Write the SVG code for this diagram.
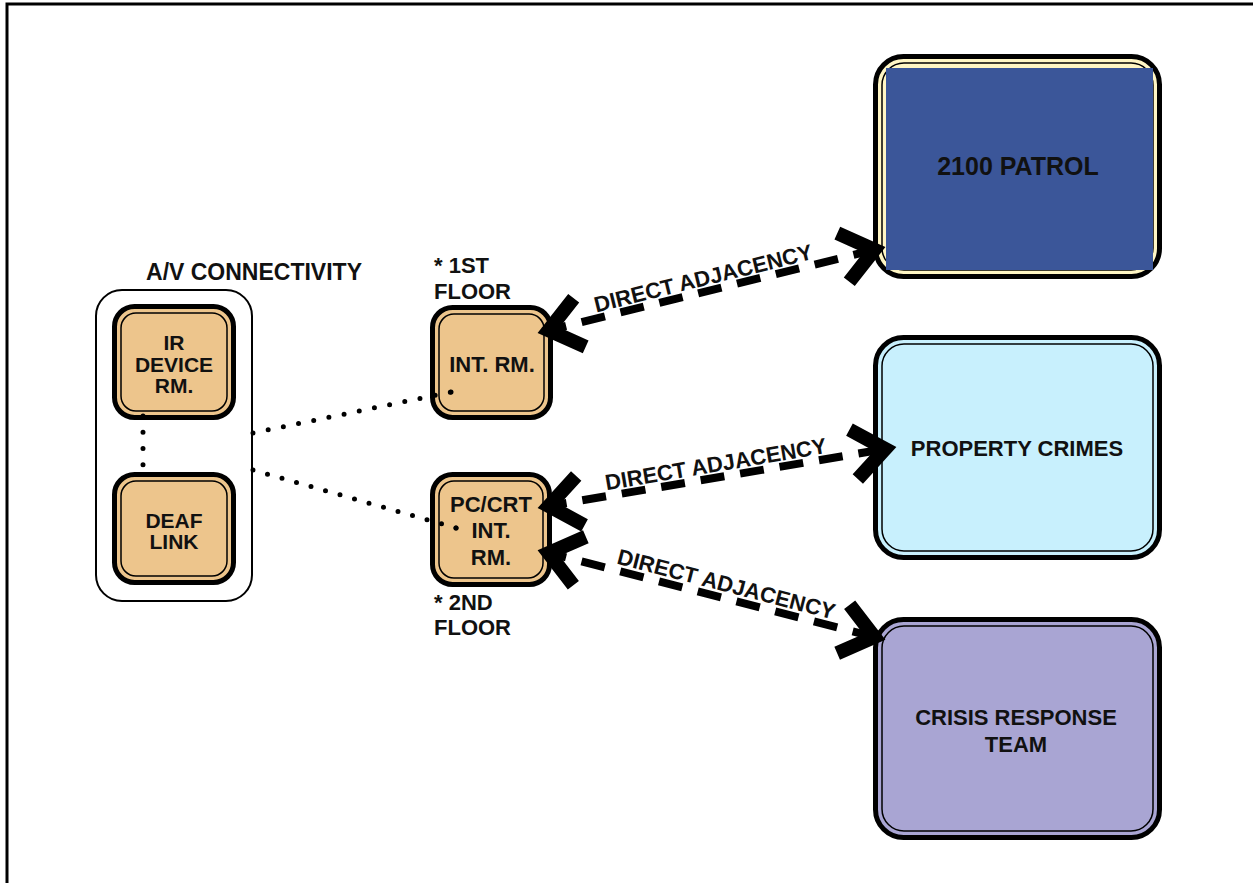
<svg xmlns="http://www.w3.org/2000/svg" width="1253" height="883" viewBox="0 0 1253 883">
  <style>
    text { font-family: "Liberation Sans", Arial, sans-serif; font-weight: bold; fill: #111; }
    .lbl { font-size: 22px; }
    .mid { text-anchor: middle; }
    .outer { stroke: #000; stroke-width: 5; }
    .inner { fill: none; stroke: #000; stroke-width: 1.5; }
    .tan { fill: #EDC58C; }
    .cream { fill: #FFF6C4; }
    .cyan { fill: #C8F0FD; }
    .lav { fill: #A9A5D3; }
    .dots { fill: none; stroke: #000; stroke-width: 5; stroke-linecap: round; }
    .adj { fill: none; stroke: #000; stroke-width: 8; stroke-dasharray: 24 16; marker-start: url(#chev); marker-end: url(#chev); }
    .adjtxt { font-size: 22px; text-anchor: middle; }
  </style>
  <defs>
    <marker id="chev" viewBox="-50 -35 70 70" refX="0" refY="0" markerWidth="70" markerHeight="70" markerUnits="userSpaceOnUse" orient="auto-start-reverse" overflow="visible">
      <path d="M-38,-25 L-6,0 L-38,25" fill="none" stroke="#000" stroke-width="14" stroke-linejoin="miter"/>
    </marker>
  </defs>

  <!-- sheet border (top and left edges) -->
  <path d="M7,883 V4 H1253" fill="none" stroke="#000" stroke-width="3"/>

  <!-- A/V connectivity grouping -->
  <g id="av-group">
    <rect x="96" y="290" width="156" height="311" rx="26" fill="none" stroke="#000" stroke-width="2"/>
    <text class="mid" font-size="23" x="254" y="280">A/V CONNECTIVITY</text>
  </g>

  <g id="ir-device-rm">
    <rect class="outer tan" x="114.5" y="306.5" width="119" height="111" rx="20"/>
    <rect class="inner" x="121" y="313" width="106" height="98" rx="15"/>
    <text class="mid" font-size="21" x="174" y="350">IR</text>
    <text class="mid" font-size="21" x="174" y="372">DEVICE</text>
    <text class="mid" font-size="21" x="174" y="393">RM.</text>
  </g>

  <g id="deaf-link">
    <rect class="outer tan" x="114.5" y="474.5" width="119" height="108" rx="20"/>
    <rect class="inner" x="121" y="481" width="106" height="95" rx="15"/>
    <text class="mid" font-size="21" x="174" y="528">DEAF</text>
    <text class="mid" font-size="21" x="174" y="549">LINK</text>
  </g>

  <g id="int-rm">
    <rect class="outer tan" x="432.5" y="307.5" width="118" height="110" rx="20"/>
    <rect class="inner" x="439" y="314" width="105" height="97" rx="15"/>
    <text class="lbl mid" x="492" y="372">INT. RM.</text>
    <text class="lbl" x="434" y="273">* 1ST</text>
    <text class="lbl" x="434" y="299">FLOOR</text>
  </g>

  <g id="pc-crt-int-rm">
    <rect class="outer tan" x="432.5" y="474.5" width="117" height="110" rx="20"/>
    <rect class="inner" x="439" y="481" width="104" height="97" rx="15"/>
    <text class="lbl mid" x="491" y="512">PC/CRT</text>
    <text class="lbl mid" x="491" y="538">INT.</text>
    <text class="lbl mid" x="491" y="565">RM.</text>
    <text class="lbl" x="434" y="610">* 2ND</text>
    <text class="lbl" x="434" y="635">FLOOR</text>
  </g>

  <g id="patrol-2100">
    <rect class="outer cream" x="875.5" y="56.5" width="284" height="220" rx="28"/>
    <rect class="inner" x="882" y="63" width="271" height="207" rx="22"/>
    <rect x="886" y="68" width="267" height="202" fill="#3B5699"/>
    <text class="mid" font-size="25" x="1018" y="175">2100 PATROL</text>
  </g>

  <g id="property-crimes">
    <rect class="outer cyan" x="875.5" y="337.5" width="284" height="220" rx="28"/>
    <rect class="inner" x="882" y="344" width="271" height="207" rx="22"/>
    <text class="lbl mid" x="1017" y="456">PROPERTY CRIMES</text>
  </g>

  <g id="crisis-response-team">
    <rect class="outer lav" x="875.5" y="619.5" width="284" height="218" rx="28"/>
    <rect class="inner" x="882" y="626" width="271" height="205" rx="22"/>
    <text class="lbl mid" x="1016" y="725">CRISIS RESPONSE</text>
    <text class="lbl mid" x="1016" y="752">TEAM</text>
  </g>

  <!-- connectors -->
  <g id="connectors">
    <!-- dotted A/V links (gap chosen so a dot lands on each end) -->
    <line class="dots" stroke-dasharray="0 16.25" x1="143" y1="416" x2="143" y2="481"/>
    <line class="dots" stroke-dasharray="0 15.5" x1="253" y1="433" x2="451" y2="392"/>
    <circle cx="451" cy="392" r="2.5" fill="#000"/>
    <line class="dots" stroke-dasharray="0 15.08" x1="253" y1="470" x2="456" y2="528"/>
    <circle cx="456" cy="528" r="2.5" fill="#000"/>

    <!-- direct adjacency links -->
    <line class="adj" x1="542.8" y1="331.6" x2="880.2" y2="248.4"/>
    <text class="adjtxt" x="705" y="285.6" transform="rotate(-13.84 705 285.6)">DIRECT ADJACENCY</text>

    <line class="adj" x1="542.9" y1="507.0" x2="891.1" y2="448.0"/>
    <text class="adjtxt" x="717" y="471.6" transform="rotate(-9.62 717 471.6)">DIRECT ADJACENCY</text>

    <line class="adj" x1="542.8" y1="551.5" x2="880.2" y2="638.5"/>
    <text class="adjtxt" x="724.5" y="591.5" transform="rotate(14.46 724.5 591.5)">DIRECT ADJACENCY</text>
  </g>
</svg>
